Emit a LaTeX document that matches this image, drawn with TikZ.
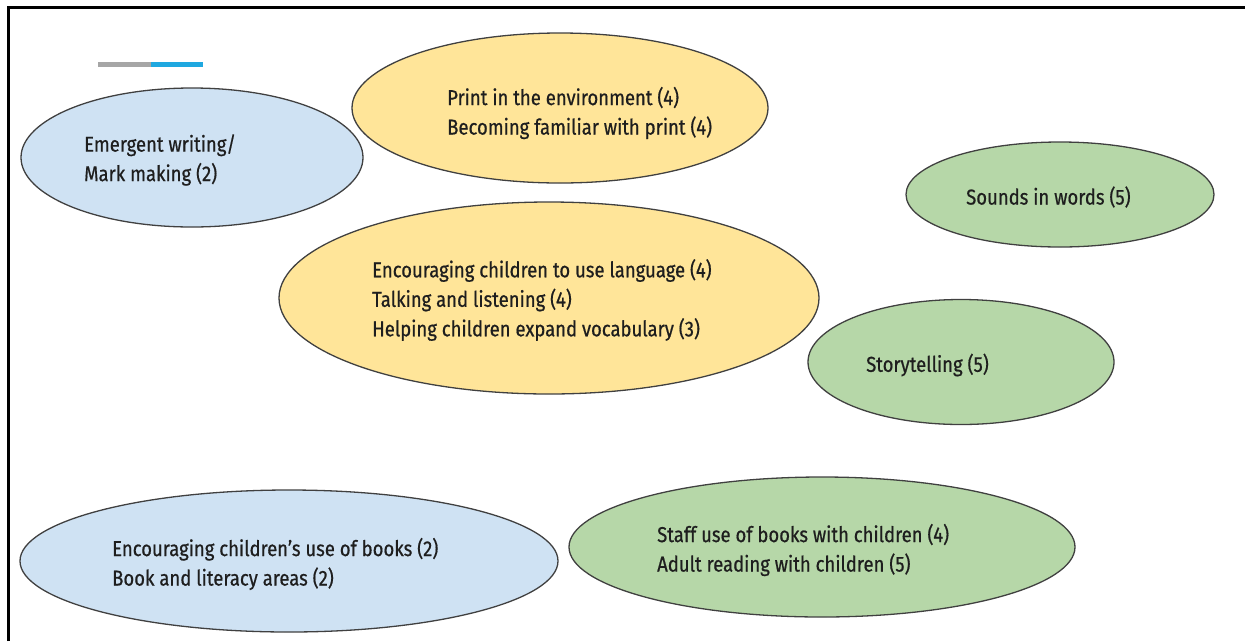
\documentclass[tikz,border=0pt]{standalone}
\usepackage{fontspec}
\setmainfont{Fira Sans}[FakeStretch=0.86,FakeBold=0.6]
\usetikzlibrary{shapes.geometric}
\definecolor{fillblue}{HTML}{CFE2F3}
\definecolor{fillyellow}{HTML}{FFE599}
\definecolor{fillgreen}{HTML}{B6D7A8}
\definecolor{edge}{HTML}{404040}
\definecolor{txt}{HTML}{1E1E1E}
\definecolor{bargray}{HTML}{A6A6A6}
\definecolor{barblue}{HTML}{1FA8E0}
\tikzset{
  bubble/.style={ellipse, draw=edge, line width=1.3pt, inner sep=0pt},
  bluebubble/.style={bubble, fill=fillblue},
  yellowbubble/.style={bubble, fill=fillyellow},
  greenbubble/.style={bubble, fill=fillgreen},
  label/.style={anchor=west, inner sep=0pt, align=left, text=txt,
    font=\fontsize{21.5}{29.5}\selectfont},
}
\begin{document}
\begin{tikzpicture}[x=1pt,y=-1pt]
\useasboundingbox (0,0) rectangle (1245,641);
% frame
\draw[line width=3pt, black] (8,641) -- (8,7) -- (1245,7);
% top bar
\draw[line width=5pt, bargray] (98,64.5) -- (151,64.5);
\draw[line width=5pt, barblue] (151,64.5) -- (203,64.5);
% ellipses
\node[bluebubble, minimum width=342pt, minimum height=139pt] (e1) at (192,157.5) {};
\node[yellowbubble, minimum width=416pt, minimum height=150pt] (e2) at (560,108) {};
\node[greenbubble, minimum width=308pt, minimum height=105pt] (e3) at (1060,194.5) {};
\node[yellowbubble, minimum width=540pt, minimum height=192pt] (e4) at (549,298) {};
\node[greenbubble, minimum width=306pt, minimum height=125pt] (e5) at (961,362) {};
\node[bluebubble, minimum width=538pt, minimum height=142pt] (e6) at (289,561) {};
\node[greenbubble, minimum width=506pt, minimum height=140pt] (e7) at (822,547) {};
% texts
\node[label] (t1) at (84,160) {Emergent writing/\\Mark making (2)};
\node[label] (t2) at (447,113) {Print in the environment (4)\\Becoming familiar with print (4)};
\node[label] (t3) at (966,197) {Sounds in words (5)};
\node[label] (t4) at (372,300) {Encouraging children to use language (4)\\Talking and listening (4)\\Helping children expand vocabulary (3)};
\node[label] (t5) at (866,365) {Storytelling (5)};
\node[label] (t6) at (112,564) {Encouraging children’s use of books (2)\\Book and literacy areas (2)};
\node[label] (t7) at (657,550) {Staff use of books with children (4)\\Adult reading with children (5)};
\end{tikzpicture}
\end{document}
